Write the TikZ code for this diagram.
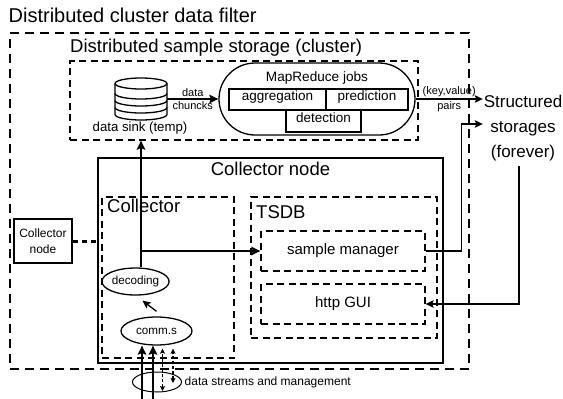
\documentclass[tikz,border=0pt]{standalone}
\usepackage{fontspec}
\setmainfont{Liberation Sans}
\usetikzlibrary{arrows.meta,shapes.geometric,positioning,calc}

\tikzset{
  frame/.style={draw, line width=1.4pt, dash pattern=on 9pt off 6pt, inner sep=0pt},
  dbox/.style={draw, line width=1.3pt, dash pattern=on 7pt off 4.5pt, inner sep=0pt},
  sbox/.style={draw, line width=1.3pt, inner sep=0pt},
  jobbox/.style={draw, line width=1.2pt, inner sep=0pt, text height=6pt, text depth=4pt,
    font=\fontsize{13.5}{16}\selectfont},
  head/.style={anchor=base west, inner sep=0pt, font=\fontsize{18.5}{22}\selectfont},
  store/.style={inner sep=0pt, text width=80pt, align=center, text height=16pt, text depth=0pt,
    font=\fontsize{17}{20}\selectfont},
  oval/.style={ellipse, draw, line width=1.3pt, inner sep=0pt, font=\fontsize{11.7}{14}\selectfont},
  lbl/.style={font=\fontsize{11}{13}\selectfont, inner sep=1.5pt},
  arr/.style={-{Stealth[length=9pt,width=8.5pt,inset=1.5pt]}, line width=2pt},
  thinarr/.style={-{Stealth[length=8pt,width=7.5pt,inset=1.5pt]}, line width=1.3pt},
  dlink/.style={{Stealth[length=5pt,width=5pt,inset=1pt]}-{Stealth[length=5pt,width=5pt,inset=1pt]},
    line width=1.1pt, dash pattern=on 3pt off 2pt},
  icon/.style={line width=1.3pt}
}

\begin{document}
\begin{tikzpicture}[x=1pt,y=-1pt]
  \useasboundingbox (0,0) rectangle (563,399);

  \node[anchor=base west, inner sep=0pt, font=\fontsize{20}{24}\selectfont] (ttl) at (8.5,22) {Distributed cluster data filter};
  \node[frame, minimum width=459pt, minimum height=336pt] (filter) at (239.5,201) {};

  \node[head] (storttl) at (70,52) {Distributed sample storage (cluster)};
  \node[dbox, minimum width=348pt, minimum height=79pt] (stor) at (244,100.5) {};

  \node[minimum width=52pt, minimum height=42pt] (sink) at (141,99) {};
  \draw[icon] (115,83.5) -- (115,114.5) arc[start angle=180, end angle=360, x radius=26pt, y radius=5.5pt] -- (167,83.5);
  \draw[icon] (141,83.5) ellipse [x radius=26pt, y radius=5.5pt];
  \draw[icon] (115,93.5) arc[start angle=180, end angle=360, x radius=26pt, y radius=5.5pt];
  \draw[icon] (115,100.5) arc[start angle=180, end angle=360, x radius=26pt, y radius=5.5pt];
  \draw[icon] (115,107.5) arc[start angle=180, end angle=360, x radius=26pt, y radius=5.5pt];
  \node[anchor=base, inner sep=0pt, font=\fontsize{13.2}{16}\selectfont] (sinkttl) at (140,131.5) {data sink (temp)};

  \node[sbox, rounded corners=36pt, minimum width=196pt, minimum height=72pt] (mr) at (317,99) {};
  \node[anchor=base, inner sep=0pt, font=\fontsize{13.6}{16}\selectfont] (mrttl) at (317,81.7) {MapReduce jobs};
  \node[jobbox, minimum width=97pt, minimum height=21pt] (agg) at (277.5,99.5) {aggregation};
  \node[jobbox, minimum width=82pt, minimum height=21pt] (pred) at (367,99.5) {prediction};
  \node[jobbox, minimum width=75pt, minimum height=22pt] (det) at (323.5,121) {detection};

  \node[store] (s1) at (523,99) {Structured};
  \node[store] (s2) at (523,124) {storages};
  \node[store] (s3) at (523,149) {(forever)};

  \node[sbox, minimum width=345pt, minimum height=205pt] (cnode) at (270.5,260.5) {};
  \node[head, anchor=base] (cnodettl) at (270.5,175) {Collector node};

  \node[dbox, minimum width=132pt, minimum height=161pt] (coll) at (168,277.5) {};
  \node[head] (collttl) at (107,212) {Collector};
  \node[dbox, minimum width=186pt, minimum height=141pt] (tsdb) at (344,267.5) {};
  \node[head] (tsdbttl) at (256,218) {TSDB};

  \node[dbox, minimum width=164pt, minimum height=40pt, font=\fontsize{15}{18}\selectfont] (sm) at (343,251) {sample manager};
  \node[dbox, minimum width=164pt, minimum height=40pt, font=\fontsize{15}{18}\selectfont] (gui) at (343,304) {http GUI};

  \node[sbox, minimum width=58pt, minimum height=44pt, align=center, font=\fontsize{12}{16}\selectfont] (lcn) at (43,241) {Collector\\node};

  \node[oval, minimum width=65pt, minimum height=27pt] (dec) at (135.5,281.5) {decoding};
  \node[oval, minimum width=71pt, minimum height=28pt] (comm) at (156.5,331) {comm.s};
  \node[ellipse, draw, line width=1pt, minimum width=49pt, minimum height=20pt] (bund) at (157,382) {};
  \node[lbl, right=1pt of bund, font=\fontsize{12}{14}\selectfont] (bundlbl) {data streams and management};

  \coordinate (in1) at (142,399);
  \coordinate (in2) at (153,399);
  \coordinate (in3) at (162.5,391);
  \coordinate (in4) at (173,383);

  \draw[arr] (sink) -- (mr) node[lbl, midway, above] {data} node[lbl, midway, below] {chuncks};
  \draw[thinarr] (mr) -- (s1) node[lbl, midway, above] {(key,value)} node[lbl, midway, below] {pairs};
  \draw[thinarr] (sm.east) -- ++(36,0) |- (s2.west);
  \draw[thinarr] ($(s3.south)+(-4,9)$) |- (gui.east);
  \draw[line width=3pt, dash pattern=on 5pt off 4pt] (lcn.east) -- (lcn.east -| cnode.west);
  \draw[arr] (dec.north -| sink) -- (sink |- stor.south);
  \draw[arr] (sink |- sm.west) -- (sm.west);
  \draw[thinarr] ($(comm.north)+(0,-5)$) -- ($(dec.south)+(7,5)$);
  \draw[arr] (in1) -- (in1 |- comm.south);
  \draw[arr] (in2) -- (in2 |- comm.south);
  \draw[dlink, shorten >=3pt] (in3) -- (in3 |- comm.south);
  \draw[dlink, shorten >=3pt] (in4) -- (in4 |- comm.south);
\end{tikzpicture}
\end{document}
